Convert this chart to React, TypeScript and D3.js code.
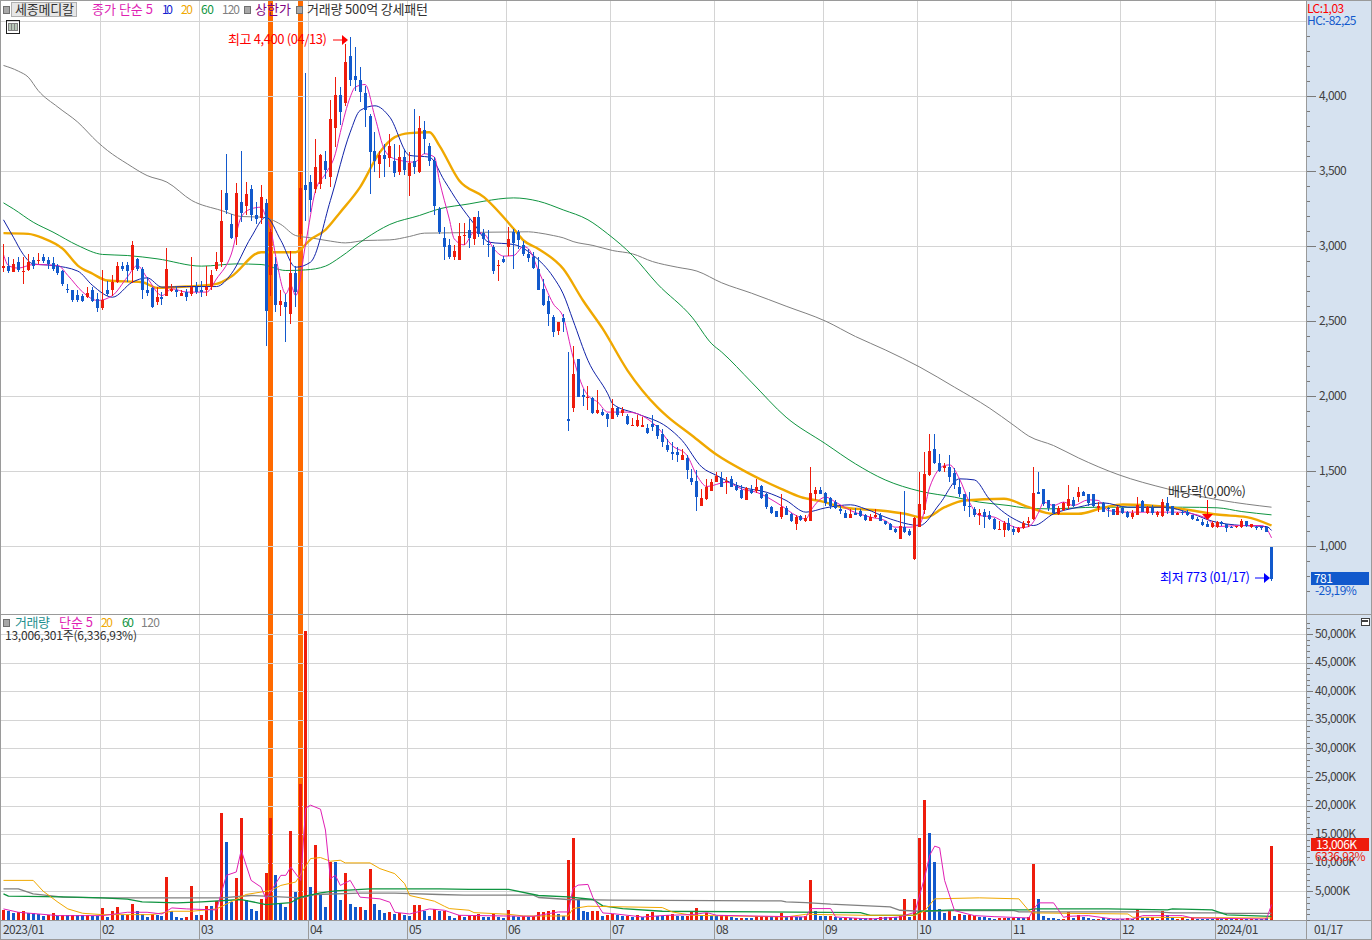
import React from 'react';
import * as d3 from 'd3';

const W = 1372;
const H = 940;
const RED = '#ee1c0c';
const BLUE = '#1259cc';
const MA5_C = '#e01fb4';
const MA10_C = '#1022a8';
const MA20_C = '#f0a800';
const MA60_C = '#0f9440';
const MA120_C = '#808080';
const PANEL = '#d6e2f0';
const EDGE = '#9a9a9a';
const GRID = '#d4d4d4';
const FONT = '"Noto Sans CJK KR", "Noto Sans", sans-serif';

// daily candles, 2023/01/02 - 2024/01/17
const opens = [
  2856,2873,2829,2900,2829,2844,2911,2902,2933,2911, 2891,2873,2836,2718,2711,2680,2669,2662,2711,2647,
  2589,2711,2707,2762,2873,2878,2844,2918,2851,2711, 2722,2629,2662,2673,2702,2711,2673,2696,2684,2729,
  2711,2707,2729,2847,2896,3356,3151,3062,3296,3273, 3384,3213,3191,3293,2807,2884,2607,2627,2547,2822,
  3084,3407,3433,3382,3418,3567,3462,3789,4007,3958, 4267,4140,4113,4024,3873,3640,3547,3613,3589,3573,
  3496,3600,3469,3567,3496,3780,3667,3573,3251,3056, 3007,2929,2907,3067,3111,3051,3196,3091,3018,2996,
  2873,2916,2996,3100,3096,3013,2947,2933,2851,2718, 2640,2529,2436,2522,1847,1922,2247,2011,1996,1991,
  1889,1900,1884,1849,1924,1891,1867,1802,1802,1796, 1789,1818,1807,1751,1678,1633,1627,1580,1591,1460,
  1440,1273,1316,1373,1429,1456,1429,1447,1404,1378, 1313,1380,1373,1402,1351,1262,1240,1196,1258,1218,
  1151,1202,1173,1167,1347,1380,1358,1324,1300,1249, 1224,1191,1224,1236,1207,1173,1196,1213,1167,1151,
  1120,1049,1133,1102,916,1129,1244,1478,1653,1558, 1522,1529,1491,1400,1347,1273,1251,1213,1229,1213,
  1184,1116,1113,1160,1118,1096,1124,1156,1184,1362, 1384,1307,1284,1218,1244,1273,1313,1333,1362,1347,
  1347,1258,1289,1258,1251,1213,1258,1229,1200,1213, 1302,1222,1258,1207,1202,1293,1267,1213,1233,1229,
  1207,1184,1162,1147,1133,1133,1162,1147,1133,1129, 1129,1167,1133,1133,1133,1129,1000,
];
const closes = [
  2873,2840,2884,2844,2836,2900,2873,2913,2902,2884, 2847,2822,2751,2707,2644,2644,2636,2689,2640,2589,
  2644,2684,2762,2867,2851,2840,3013,2851,2707,2689, 2600,2662,2647,2851,2718,2696,2691,2662,2729,2696,
  2696,2733,2813,2900,3173,3244,3058,3356,3224,3347, 3207,3184,3333,2569,3096,2607,2636,2596,2822,2700,
  3387,3380,3307,3533,3613,3507,3853,4007,3900,4233, 4107,4107,4029,3911,3629,3573,3613,3584,3667,3489,
  3596,3507,3556,3533,3791,3718,3573,3273,3096,3000, 2929,2973,3073,3080,3058,3196,3084,3051,3007,2840,
  2880,2898,3051,3024,3044,2947,2924,2856,2713,2607, 2547,2429,2496,2500,1836,2147,2000,1996,2000,1889,
  1911,1880,1847,1924,1878,1907,1818,1807,1844,1811, 1758,1796,1740,1700,1644,1620,1607,1613,1513,1429,
  1329,1322,1400,1433,1473,1400,1436,1400,1380,1322, 1389,1356,1400,1324,1262,1222,1200,1262,1211,1167,
  1200,1178,1189,1356,1378,1351,1291,1267,1256,1236, 1193,1218,1213,1202,1178,1200,1213,1173,1147,1113,
  1096,1136,1096,1080,1189,1284,1484,1640,1556,1502, 1540,1462,1411,1347,1267,1262,1211,1222,1200,1182,
  1118,1118,1158,1107,1096,1124,1158,1173,1356,1351, 1284,1258,1222,1258,1289,1318,1273,1362,1340,1289,
  1273,1273,1233,1247,1213,1262,1222,1200,1224,1280, 1233,1262,1222,1229,1300,1240,1213,1224,1222,1213,
  1184,1169,1142,1133,1156,1162,1147,1124,1129,1138, 1169,1140,1147,1129,1129,1100,781,
];
const highs = [
  3018,2929,2918,2929,2933,2951,2929,2958,2951,2933, 2929,2884,2844,2751,2711,2711,2684,2733,2729,2689,
  2844,2773,2807,2896,2896,2896,3040,2924,2862,2796, 2729,2729,2696,2991,2751,2740,2711,2718,2933,2762,
  2773,2873,2844,2962,3378,3618,3218,3424,3640,3429, 3413,3296,3411,3318,3118,2933,2707,2684,2973,2873,
  3496,4156,3480,3718,3618,3640,3980,4133,4062,4351, 4400,4333,4196,4073,3884,3762,3640,3684,3751,3684,
  3680,3651,3629,3918,3873,3836,3689,3596,3262,3129, 3051,3013,3156,3156,3184,3200,3240,3118,3107,3007,
  2911,2940,3133,3118,3107,3040,2984,2962,2929,2784, 2673,2544,2496,2551,2300,2340,2247,2051,2067,2000,
  2044,1918,1889,1984,1929,1933,1884,1858,1878,1862, 1818,1880,1811,1784,1718,1696,1662,1651,1607,1518,
  1507,1384,1451,1451,1500,1496,1462,1467,1433,1407, 1400,1407,1447,1407,1356,1267,1240,1347,1267,1222,
  1211,1207,1211,1533,1400,1396,1362,1333,1307,1273, 1244,1251,1258,1251,1218,1218,1251,1222,1173,1156,
  1124,1229,1367,1118,1196,1496,1629,1747,1747,1618, 1556,1613,1524,1451,1347,1362,1262,1251,1251,1240,
  1191,1173,1173,1189,1140,1133,1167,1200,1529,1496, 1384,1307,1284,1273,1296,1413,1329,1396,1373,1351,
  1351,1296,1296,1262,1251,1267,1273,1236,1244,1333, 1307,1273,1280,1240,1318,1329,1273,1229,1244,1244,
  1207,1196,1184,1173,1173,1173,1169,1151,1140,1140, 1184,1169,1151,1140,1140,1140,1000,
];
const lows = [
  2829,2822,2829,2829,2751,2840,2851,2884,2889,2851, 2840,2813,2740,2689,2633,2629,2629,2656,2629,2562,
  2578,2667,2673,2756,2840,2762,2756,2840,2651,2673, 2591,2613,2607,2667,2696,2662,2667,2636,2673,2684,
  2662,2673,2707,2840,2862,3218,3051,3007,3162,3207, 3173,3151,3147,2340,2667,2562,2540,2362,2484,2600,
  3051,3169,3229,3356,3384,3451,3396,3662,3807,3940, 4073,4040,3962,3796,3351,3496,3458,3462,3529,3462,
  3480,3480,3336,3484,3489,3618,3540,3207,3084,2907, 2918,2913,2907,3007,2989,3007,3062,3007,2929,2818,
  2773,2889,2940,2847,2984,2940,2896,2851,2711,2604, 2473,2396,2407,2429,1773,1896,1996,1940,1907,1884,
  1884,1871,1796,1847,1862,1873,1807,1802,1800,1796, 1747,1769,1718,1662,1629,1580,1562,1580,1451,1407,
  1240,1273,1311,1373,1429,1396,1347,1396,1369,1318, 1307,1351,1356,1318,1251,1218,1196,1184,1207,1162,
  1113,1167,1162,1167,1307,1347,1273,1251,1251,1218, 1189,1189,1207,1196,1173,1167,1191,1167,1144,1113,
  1093,1047,1091,1073,913,1129,1218,1473,1551,1496, 1496,1433,1384,1333,1236,1196,1196,1144,1122,1178,
  1113,1116,1062,1102,1080,1093,1120,1129,1178,1347, 1273,1240,1218,1213,1240,1251,1262,1296,1336,1273,
  1262,1229,1229,1196,1207,1213,1218,1191,1184,1207, 1229,1218,1213,1196,1200,1218,1207,1211,1207,1202,
  1180,1167,1140,1129,1124,1124,1140,1096,1124,1124, 1124,1133,1122,1107,1107,1096,773,
];

// shares traded, thousands
const volumes = [
  1820,1526,1174,1350,1644,1174,1174,1057,763,880, 1174,646,939,880,880,880,880,939,763,763,
  2172,587,1644,2348,822,822,2876,1526,1057,587, 1057,822,646,7455,1644,587,411,587,5870,822,
  939,2524,2524,3405,18725,13618,3229,7279,17845,3522, 1996,1644,3757,8159,17845,7925,2818,2348,15556,4813,
  23832,50600,5694,13090,4285,2348,10214,10214,3581,8159, 2876,2348,2348,1820,8864,2876,1820,1291,1468,1115,
  1291,939,763,2700,2700,1644,763,1996,1526,1526, 646,411,939,470,646,822,1057,470,470,1057,
  470,294,1702,704,470,704,470,646,1350,1350, 1526,1702,998,763,10507,14381,3463,1526,1350,1526,
  1526,646,822,1057,822,646,704,470,822,470, 998,1350,704,646,880,998,704,704,704,1350,
  2055,822,1233,704,704,822,880,528,352,352, 352,352,646,646,646,470,470,1233,470,646,
  470,470,646,6985,1526,646,646,646,470,294, 294,294,294,352,294,294,235,470,470,470,
  470,646,3698,470,3757,14323,21015,15203,10096,1996, 1291,1644,763,1115,822,880,763,587,587,411,
  235,352,352,352,352,352,352,587,9744,3757, 763,411,411,235,235,1468,411,939,587,411,
  176,235,352,117,117,117,117,352,100,1996, 411,411,587,235,1644,939,352,100,470,235,
  352,235,235,235,235,411,100,411,176,176, 235,235,176,176,176,352,13006,
];
// r = volume up, b = volume down
const volumeDir = (
  'rbbrrbbbbr' + 'rbrbrbbrbb' + 'rbrrbrrbbb' + 'rbbrbbbrrb' + 'rrbrrbbrrb' + 'bbrrrbbbrb' +
  'rrbrbbrbbr' + 'bbrbrbbbrb' + 'rbbrrbbrbr' + 'bbrbrrrbbr' + 'bbrbbrbrrr' + 'rrbbrrbbbr' +
  'rbrrbbrbrb' + 'rrbbrrbbrr' + 'rbrbbrrbbr' + 'bbrrrbrrbr' + 'bbrrbbbrbb' + 'rbrbbrbrbr' +
  'brrbrrrbbb' + 'brbrbrrbbb' + 'brrbrbbrrb' + 'bbbbrrbrbb' + 'brbbbbbrbr' + 'bbrbrbbrrb' +
  'rbbbbrbrbr' + 'rbrbbbr'
).split('');

const ma5: number[][] = [
  [0,2947],[1,2873],[3,2856],[6,2880],[11,2873],[13,2807],[16,2696],[19,2640],[22,2673],[25,2796],[27,2873],[29,2791],
  [32,2673],[34,2718],[37,2696],[41,2696],[43,2784],[46,2950],[48,3196],[50,3251],[52,3262],[53,3196],[54,3107],[55,2929],
  [57,2684],[58,2740],[59,2673],[61,3018],[63,3373],[65,3484],[67,3618],[68,3760],[70,3996],[71,4062],[73,4080],[75,3862],
  [77,3640],[79,3584],[83,3562],[85,3618],[87,3596],[88,3440],[90,3184],[91,3051],[93,3011],[95,3096],[97,3084],[99,2984],
  [101,2936],[103,2940],[105,3000],[106,2984],[108,2840],[111,2618],[113,2529],[115,2262],[117,2062],[118,2007],[120,1962],
  [122,1896],[126,1896],[132,1796],[135,1673],[138,1607],[140,1473],[142,1400],[146,1429],[148,1400],[149,1384],[152,1362],
  [157,1273],[160,1207],[162,1184],[163,1240],[166,1329],[168,1296],[171,1240],[175,1196],[178,1173],[180,1129],[183,1129],
  [185,1151],[187,1396],[190,1540],[191,1544],[193,1451],[195,1296],[197,1207],[200,1196],[202,1162],[205,1124],[207,1133],
  [209,1229],[210,1296],[212,1273],[214,1296],[216,1273],[219,1311],[221,1307],[223,1240],[227,1229],[233,1229],[237,1229],
  [240,1218],[243,1184],[245,1133],[250,1140],[254,1140],[255,1118],[256,1058],
];
const ma10: number[][] = [
  [0,3178],[2,3062],[4,2947],[6,2884],[10,2873],[15,2836],[18,2740],[22,2662],[26,2762],[29,2791],[32,2729],[37,2733],
  [43,2733],[46,2818],[50,3062],[53,3196],[56,3040],[59,2862],[62,2896],[66,3307],[70,3762],[72,3907],[75,3938],[78,3862],
  [82,3607],[86,3596],[89,3440],[92,3284],[95,3151],[98,3029],[103,3013],[107,2940],[111,2796],[113,2684],[115,2507],
  [118,2240],[122,2018],[123,1951],[128,1884],[134,1796],[137,1707],[141,1529],[144,1473],[149,1396],[154,1362],[158,1307],
  [162,1229],[166,1258],[171,1278],[174,1251],[179,1184],[185,1140],[189,1284],[193,1451],[196,1444],[199,1318],[204,1184],
  [208,1140],[212,1218],[217,1262],[222,1291],[227,1262],[234,1262],[240,1218],[244,1169],[250,1140],[255,1133],[256,1107],
];
const ma20: number[][] = [
  [0,3089],[5,3084],[8,3056],[12,2984],[15,2873],[18,2818],[21,2773],[28,2762],[31,2724],[37,2733],[43,2751],[46,2800],
  [52,2962],[59,2962],[62,3047],[65,3111],[68,3229],[72,3396],[76,3629],[79,3729],[82,3756],[86,3762],[88,3673],[92,3440],
  [97,3329],[103,3118],[105,3040],[108,2984],[113,2851],[117,2640],[121,2451],[126,2173],[132,1929],[134,1867],[139,1740],
  [144,1611],[150,1496],[157,1384],[161,1329],[165,1302],[170,1258],[177,1240],[182,1218],[186,1191],[190,1262],[194,1307],
  [202,1318],[207,1262],[212,1218],[217,1218],[222,1258],[226,1280],[234,1267],[240,1240],[245,1213],[251,1196],[256,1140],
];
const ma60: number[][] = [
  [0,3291],[2,3251],[6,3162],[10,3096],[15,3007],[20,2947],[25,2940],[31,2918],[40,2869],[47,2884],[52,2880],[57,2840],
  [61,2844],[65,2869],[68,2929],[73,3051],[78,3147],[84,3207],[88,3251],[94,3284],[97,3302],[103,3324],[108,3302],[113,3244],
  [118,3178],[122,3084],[127,2940],[132,2751],[139,2529],[143,2351],[145,2296],[151,2096],[158,1862],[166,1684],[172,1551],
  [178,1444],[185,1369],[192,1329],[197,1296],[203,1273],[206,1258],[211,1251],[221,1262],[230,1262],[238,1262],[245,1258],
  [250,1233],[256,1211],
];
const ma120: number[][] = [
  [0,4207],[3,4169],[5,4129],[7,4040],[11,3929],[15,3829],[19,3696],[21,3640],[25,3551],[29,3473],[33,3429],[38,3307],
  [44,3240],[48,3200],[52,3196],[56,3147],[59,3073],[62,3058],[66,3036],[69,3024],[73,3040],[78,3044],[82,3067],[85,3089],
  [90,3091],[106,3098],[108,3091],[111,3073],[113,3058],[115,3033],[119,3007],[123,2973],[127,2951],[131,2900],[136,2862],
  [140,2836],[145,2758],[151,2689],[158,2602],[166,2502],[172,2400],[178,2311],[185,2196],[192,2062],[199,1924],[204,1807],
  [207,1736],[212,1673],[217,1591],[225,1480],[235,1384],[246,1307],[256,1262],
];

const volMa5: number[][] = [
  [0,1937],[3,1350],[11,763],[20,763],[25,1350],[29,1350],[32,1057],[34,2113],[37,1937],[43,1761],[45,7807],[47,8394],[48,12210],
  [50,6927],[52,5753],[53,3698],[56,7807],[57,7807],[58,9275],[60,6927],[61,19547],[62,20075],[64,19371],[65,15732],[66,7220],
  [67,7807],[68,6046],[70,6927],[72,3992],[76,3698],[78,3111],[79,1350],[82,1057],[86,1937],[89,1702],[90,1409],[92,822],[101,704],
  [107,646],[112,1409],[114,1409],[115,5518],[116,6105],[118,6222],[119,3933],[121,1233],[123,1115],[129,528],[134,822],[139,939],
  [142,1291],[144,822],[162,528],[163,1996],[167,1996],[168,528],[175,176],[181,528],[184,1350],[186,7514],[187,11329],[188,12914],
  [189,12621],[190,6927],[192,1644],[196,763],[200,587],[207,352],[208,1937],[209,2994],[212,2994],[214,470],[215,646],[219,763],
  [224,176],[228,176],[230,763],[238,763],[240,352],[255,176],[256,2700],
];
const volMa20: number[][] = [
  [0,6927],[6,6927],[8,5048],[11,3111],[13,1937],[16,1174],[20,939],[30,939],[34,1526],[38,1526],[43,1937],[49,4461],[54,5166],
  [56,6046],[59,6633],[62,10742],[64,10918],[66,10273],[68,10449],[69,9979],[74,9979],[76,8981],[79,8101],[81,6340],[82,4285],
  [87,3287],[89,2407],[90,1996],[94,1702],[95,1291],[102,998],[105,704],[114,704],[115,1996],[118,2407],[133,2172],[135,1409],
  [139,822],[158,528],[162,998],[174,822],[184,822],[186,1600],[188,3698],[197,3874],[205,3698],[207,1644],[208,1233],[227,1057],
  [228,470],[256,352],
];
const volMa60: number[][] = [
  [0,4579],[1,4168],[12,4050],[20,3874],[25,3639],[28,3170],[35,2994],[40,3170],[48,3581],[53,2700],[58,3052],[60,3992],[64,4755],
  [67,5107],[74,5459],[88,5459],[94,5342],[102,5342],[108,4285],[114,4050],[119,3581],[121,2465],[125,1996],[133,1526],[173,1291],
  [175,822],[184,822],[185,1526],[192,1761],[207,1761],[208,1937],[223,1937],[235,1761],[236,1937],[244,1761],[247,880],[256,646],
];
const volMa120: number[][] = [
  [0,5459],[3,5459],[6,4579],[12,3992],[20,3874],[44,3874],[50,4285],[60,3874],[63,4461],[72,4696],[79,4696],[88,4460],[93,4344],
  [107,4344],[108,3933],[114,3581],[123,3463],[157,3346],[158,3170],[162,3052],[167,2759],[179,2289],[181,1702],[185,1526],[192,1644],
  [204,1644],[205,1409],[233,1409],[236,1233],[245,1233],[247,1174],[256,1174],
];

const priceMajor = [1000, 1500, 2000, 2500, 3000, 3500, 4000];
const priceGrid = [1000, 1500, 2000, 2500, 3000, 3500, 4000, 4500];
const priceMinor = d3.range(700, 4500, 100);
const volMajor = d3.range(5000, 50001, 5000);
const volMinor = d3.range(0, 52001, 1000);
// first bar of each month and its label
const monthStarts = [0, 20, 40, 62, 82, 102, 123, 144, 166, 185, 204, 226, 245];
const monthLabels = ['2023/01', '02', '03', '04', '05', '06', '07', '08', '09', '10', '11', '12', '2024/01'];
const limitUpBars = [54, 60];

const x = d3.scaleBand<number>().domain(d3.range(opens.length)).range([1, 1274]);
const y = d3.scaleLinear().domain([1000, 4000]).range([546.5, 96.5]);
const yVol = d3.scaleLinear().domain([0, 50000]).range([920, 634]);
const px = (i: number) => Math.floor((x(i) as number) + x.bandwidth() / 2);
const gridX = (i: number) => Math.round(x(i) as number) + 0.5;

const priceLine = d3
  .line<number[]>()
  .x((d) => (x(d[0]) as number) + x.bandwidth() / 2)
  .y((d) => y(d[1]))
  .curve(d3.curveMonotoneX);
const volLine = d3.line<number[]>().x((d) => (x(d[0]) as number) + x.bandwidth() / 2).y((d) => yVol(d[1]));

// w stretches a label to the width it has in the original
const T = ({ x: tx, y: ty, fill = '#303030', size = 12, w, children }: any) => (
  <text
    x={tx}
    y={ty}
    fill={fill}
    fontSize={size}
    fontFamily={FONT}
    letterSpacing={w ? undefined : -0.55}
    textLength={w}
    lengthAdjust={w ? 'spacing' : undefined}
  >
    {children}
  </text>
);

const Dot = ({ x: dx, y: dy }: { x: number; y: number }) => (
  <rect x={dx} y={dy} width={6} height={7} fill="#a8a8a8" stroke="#707070" strokeWidth={1} shapeRendering="crispEdges" />
);

const App = () => {
  return (
    <svg width={W} height={H} style={{ position: 'absolute', left: 0, top: 0, background: '#fff' }}>
      {/* right and bottom panels */}
      <rect x={1306} y={0} width={66} height={H} fill={PANEL} />
      <rect x={0} y={921} width={W} height={19} fill={PANEL} />

      {/* limit-up days */}
      {limitUpBars.map((i) => (
        <rect key={i} x={px(i) - 2} y={0} width={5} height={920} fill="#ff6a00" />
      ))}

      {/* grid */}
      <g shapeRendering="crispEdges" stroke={GRID} strokeWidth={1}>
        {priceGrid.map((v) => (
          <line key={v} x1={0} x2={1306} y1={y(v)} y2={y(v)} />
        ))}
        {volMajor.map((v) => (
          <line key={v} x1={0} x2={1306} y1={Math.round(yVol(v)) + 0.5} y2={Math.round(yVol(v)) + 0.5} />
        ))}
        {monthStarts.slice(1).map((i) => (
          <line key={i} x1={gridX(i)} x2={gridX(i)} y1={0} y2={920} />
        ))}
      </g>

      {/* price moving averages */}
      <g fill="none" strokeLinejoin="round">
        <path d={priceLine(ma120) as string} stroke={MA120_C} strokeWidth={1} />
        <path d={priceLine(ma60) as string} stroke={MA60_C} strokeWidth={1} />
        <path d={priceLine(ma20) as string} stroke={MA20_C} strokeWidth={2.4} />
        <path d={priceLine(ma10) as string} stroke={MA10_C} strokeWidth={1} />
        <path d={priceLine(ma5) as string} stroke={MA5_C} strokeWidth={1} />
      </g>

      {/* candles */}
      <g shapeRendering="crispEdges">
        {opens.map((o, i) => {
          const c = closes[i];
          const col = c >= o ? RED : BLUE;
          const top = y(Math.max(o, c));
          const bot = y(Math.min(o, c));
          return (
            <g key={i} fill={col}>
              <rect x={px(i)} y={y(highs[i])} width={1} height={Math.max(1, y(lows[i]) - y(highs[i]))} />
              <rect x={px(i) - 1} y={top} width={3} height={Math.max(1, bot - top)} />
            </g>
          );
        })}
      </g>

      {/* annotations on the price panel */}
      <T x={228} y={43.5} fill="#ff0000" size={13} w={99}>최고 4,400 (04/13)</T>
      <line x1={333} x2={345} y1={40} y2={40} stroke="#ff0000" strokeWidth={1} />
      <path d={d3.line()([[342, 35], [348, 40], [342, 45]]) as string} fill="#ff0000" />

      <T x={1168} y={496} fill="#303030" size={13} w={78}>배당락(0,00%)</T>
      <line x1={px(243) + 0.5} x2={px(243) + 0.5} y1={500} y2={516} stroke="#ff0000" strokeWidth={1} />
      <path d={d3.line()([[px(243) - 5, 514], [px(243) + 6, 514], [px(243) + 0.5, 520]]) as string} fill="#ff0000" />

      <T x={1160} y={581.5} fill="#0000ff" size={13} w={90}>최저 773 (01/17)</T>
      <line x1={1255} x2={1266} y1={578} y2={578} stroke="#0000ff" strokeWidth={1} />
      <path d={d3.line()([[1264, 573], [1270, 578], [1264, 583]]) as string} fill="#0000ff" />

      {/* volume bars */}
      <g shapeRendering="crispEdges">
        {volumes.map((v, i) => (
          <rect
            key={i}
            x={px(i) - 1}
            y={yVol(v)}
            width={3}
            height={yVol(0) - yVol(v)}
            fill={volumeDir[i] === 'r' ? RED : BLUE}
          />
        ))}
      </g>
      <g fill="none" strokeLinejoin="round">
        <path d={volLine(volMa120) as string} stroke={MA120_C} strokeWidth={1.3} />
        <path d={volLine(volMa60) as string} stroke={MA60_C} strokeWidth={1.3} />
        <path d={volLine(volMa20) as string} stroke={MA20_C} strokeWidth={1} />
        <path d={volLine(volMa5) as string} stroke={MA5_C} strokeWidth={1} />
      </g>

      {/* frame and dividers */}
      <g shapeRendering="crispEdges" stroke={EDGE} strokeWidth={1} fill="none">
        <rect x={0.5} y={0.5} width={W - 1} height={H - 1} />
        <line x1={1306.5} x2={1306.5} y1={0} y2={H} />
        <line x1={0} x2={W} y1={614.5} y2={614.5} />
        <line x1={0} x2={W} y1={920.5} y2={920.5} />
        {monthStarts.slice(1).map((i) => (
          <line key={i} x1={gridX(i)} x2={gridX(i)} y1={921} y2={H} />
        ))}
      </g>

      {/* price axis */}
      <g shapeRendering="crispEdges" stroke="#7a7a7a" strokeWidth={1}>
        {priceMinor.map((v) => (
          <line key={v} x1={1307} x2={1310} y1={y(v)} y2={y(v)} />
        ))}
        {priceMajor.map((v) => (
          <line key={v} x1={1307} x2={1316} y1={y(v)} y2={y(v)} />
        ))}
      </g>
      {priceMajor.map((v) => (
        <T key={v} x={1319} y={y(v) + 3.5} fill="#404040">{d3.format(',')(v)}</T>
      ))}
      <T x={1307} y={13} fill="#ff0000">LC:1,03</T>
      <T x={1307} y={25} fill={BLUE}>HC:-82,25</T>
      <rect x={1311} y={572} width={58} height={13} fill={BLUE} />
      <T x={1314} y={583} fill="#ffffff">781</T>
      <T x={1315} y={595} fill={BLUE}>-29,19%</T>

      {/* volume axis */}
      <g shapeRendering="crispEdges" stroke="#7a7a7a" strokeWidth={1}>
        {volMinor.map((v) => (
          <line key={v} x1={1307} x2={1310} y1={Math.round(yVol(v)) + 0.5} y2={Math.round(yVol(v)) + 0.5} />
        ))}
        {volMajor.map((v) => (
          <line key={v} x1={1307} x2={1313} y1={Math.round(yVol(v)) + 0.5} y2={Math.round(yVol(v)) + 0.5} />
        ))}
      </g>
      {volMajor.map((v) => (
        <T key={v} x={1315} y={yVol(v) + 3.5} fill="#404040">{d3.format(',')(v)}K</T>
      ))}
      <rect x={1311} y={838} width={58} height={13} fill={RED} />
      <T x={1316} y={849} fill="#ffffff">13,006K</T>
      <T x={1315} y={861} fill={RED}>6336,93%</T>
      <rect x={1361} y={618} width={8} height={7} fill="#ffffff" stroke="#404040" shapeRendering="crispEdges" />
      <rect x={1362} y={620} width={6} height={2} fill="#404040" />

      {/* date axis */}
      {monthStarts.map((i, k) => (
        <T key={i} x={gridX(i) + 1.5} y={933.5} fill="#404040">{monthLabels[k]}</T>
      ))}
      <T x={1314} y={933.5} fill="#404040">01/17</T>

      {/* header legend */}
      <Dot x={3} y={6} />
      <rect x={11.5} y={2.5} width={65} height={14} fill="#e6e6e6" stroke="#b0b0b0" shapeRendering="crispEdges" />
      <T x={15} y={14} fill="#303030" size={13} w={59}>세종메디칼</T>
      <T x={92} y={14} fill={MA5_C} size={13} w={61}>종가 단순 5</T>
      <T x={162} y={14} fill="#1020d0" w={11}>10</T>
      <T x={181} y={14} fill={MA20_C} w={12}>20</T>
      <T x={201} y={14} fill={MA60_C} w={13}>60</T>
      <T x={222} y={14} fill={MA120_C} w={18}>120</T>
      <Dot x={244} y={6} />
      <T x={255} y={14} fill="#800080" size={13} w={36}>상한가</T>
      <Dot x={296} y={6} />
      <T x={307} y={14} fill="#303030" size={13} w={121}>거래량 500억 강세패턴</T>
      <g shapeRendering="crispEdges" fill="none" stroke="#202020">
        <rect x={6.5} y={20.5} width={13} height={13} />
        <rect x={8.5} y={23.5} width={9} height={7} fill="#b8c8b8" stroke="#808080" />
        <line x1={11.5} x2={11.5} y1={23} y2={31} stroke="#808080" />
        <line x1={14.5} x2={14.5} y1={23} y2={31} stroke="#808080" />
      </g>

      {/* volume legend */}
      <Dot x={3} y={619} />
      <T x={15} y={627} fill="#1f8f8f" size={13} w={35}>거래량</T>
      <T x={59} y={627} fill={MA5_C} size={13} w={34}>단순 5</T>
      <T x={101} y={627} fill={MA20_C} w={12}>20</T>
      <T x={122} y={627} fill={MA60_C} w={12}>60</T>
      <T x={141} y={627} fill={MA120_C} w={19}>120</T>
      <T x={5} y={640} fill="#303030" w={132}>13,006,301주(6,336,93%)</T>
    </svg>
  );
};

export default App;
